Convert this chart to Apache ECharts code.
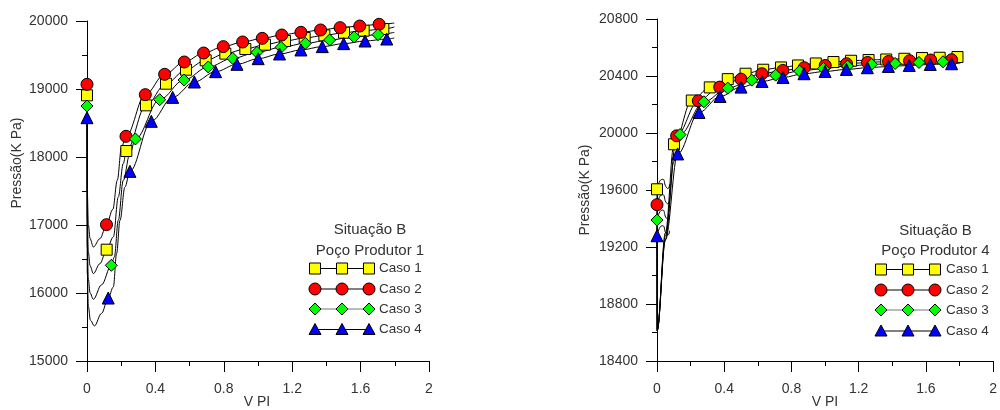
<!DOCTYPE html>
<html>
<head>
<meta charset="utf-8">
<script src="https://cdn.jsdelivr.net/npm/echarts@6/dist/echarts.min.js"></script>
<style>html,body{margin:0;padding:0;background:#fff}#c{width:1000px;height:410px}</style>
</head>
<body>
<div id="c"></div>
<script>
// ---------- DATA ----------
const caseNames = ['Caso 1', 'Caso 2', 'Caso 3', 'Caso 4'];
const xTickLabels = ['0', '0.4', '0.8', '1.2', '1.6', '2'];
const yTicksP1 = [15000, 16000, 17000, 18000, 19000, 20000];
const yTicksP4 = [18400, 18800, 19200, 19600, 20000, 20400, 20800];

// Poço Produtor 1 – marker points
const p1Caso1 = [[0,18907],[0.115,16637],[0.230,18088],[0.345,18760],[0.462,19078],[0.579,19284],[0.694,19422],[0.809,19520],[0.926,19588],[1.041,19652],[1.158,19706],[1.273,19750],[1.388,19789],[1.503,19828],[1.618,19858],[1.733,19882]];
const p1Caso2 = [[0,19069],[0.114,17005],[0.228,18304],[0.341,18917],[0.454,19216],[0.569,19397],[0.682,19529],[0.797,19623],[0.910,19691],[1.025,19745],[1.139,19794],[1.251,19833],[1.366,19868],[1.480,19902],[1.595,19926],[1.708,19951]];
const p1Caso3 = [[0,18750],[0.142,16407],[0.283,18265],[0.425,18843],[0.567,19132],[0.709,19324],[0.852,19451],[0.994,19539],[1.135,19613],[1.277,19672],[1.419,19721],[1.562,19765],[1.702,19799]];
const p1Caso4 = [[0,18578],[0.124,15926],[0.251,17789],[0.376,18525],[0.501,18877],[0.628,19103],[0.752,19255],[0.877,19363],[1.001,19446],[1.126,19515],[1.251,19574],[1.376,19623],[1.501,19667],[1.626,19706],[1.753,19735]];
// Poço Produtor 1 – extra curve points read between markers
const p1Caso1Curve = [[0.0015,17100],[0.008,16600],[0.018,16400],[0.037,16285],[0.075,16430],[0.154,16824],[0.183,17412],[0.212,17903],[1.797,19912]];
const p1Caso2Curve = [[0.0015,17500],[0.008,17000],[0.018,16800],[0.037,16676],[0.076,16800],[0.151,17230],[0.177,17657],[0.202,18147],[1.797,19970]];
const p1Caso3Curve = [[0.0015,16700],[0.008,16200],[0.018,16000],[0.037,15907],[0.085,16120],[0.160,16530],[0.183,17069],[0.212,17657],[0.251,18050],[1.797,19833]];
const p1Caso4Curve = [[0.0015,16300],[0.008,15800],[0.020,15600],[0.043,15515],[0.085,15700],[0.154,16088],[0.173,16579],[0.193,17069],[0.222,17559],[1.797,19750]];

// Poço Produtor 4 – marker points
const p4Caso1 = [[0,19605],[0.101,19921],[0.207,20228],[0.314,20320],[0.421,20378],[0.527,20416],[0.632,20444],[0.738,20460],[0.839,20474],[0.945,20488],[1.050,20498],[1.155,20507],[1.259,20512],[1.364,20516],[1.472,20521],[1.577,20526],[1.682,20528],[1.788,20533]];
const p4Caso2 = [[0,19497],[0.117,19980],[0.246,20226],[0.373,20322],[0.500,20378],[0.624,20416],[0.749,20439],[0.876,20458],[1.001,20474],[1.128,20486],[1.253,20495],[1.378,20502],[1.503,20507],[1.628,20512],[1.753,20514]];
const p4Caso3 = [[0,19389],[0.137,19989],[0.279,20219],[0.421,20315],[0.564,20371],[0.706,20406],[0.849,20434],[0.991,20453],[1.134,20470],[1.276,20481],[1.417,20488],[1.559,20495],[1.702,20500]];
const p4Caso4 = [[0,19279],[0.123,19853],[0.250,20144],[0.375,20256],[0.500,20322],[0.625,20362],[0.750,20390],[0.875,20416],[1.000,20432],[1.127,20446],[1.252,20458],[1.377,20467],[1.501,20474],[1.626,20481],[1.753,20486]];
// Poço Produtor 4 – extra curve points
const p4Caso1Curve = [[0.001,18615],[0.050,19300],[1.805,20538]];
const p4Caso2Curve = [[0.001,18615],[0.050,19280],[1.805,20519]];
const p4Caso3Curve = [[0.001,18615],[0.050,19250],[0.100,19800],[1.805,20505]];
const p4Caso4Curve = [[0.001,18615],[0.050,19250],[1.805,20491]];
// Poço Produtor 4 – small wiggles next to the first markers
const p4Caso1Wiggle = [[0,19605],[0.018,19665],[0.035,19675],[0.052,19625],[0.066,19610],[0.075,19640]];
const p4Caso2Wiggle = [[0,19497],[0.018,19557],[0.035,19567],[0.052,19517],[0.066,19502],[0.075,19532]];
const p4Caso3Wiggle = [[0,19389],[0.018,19449],[0.035,19459],[0.052,19409],[0.066,19394],[0.075,19424]];
const p4Caso4Wiggle = [[0,19279],[0.018,19339],[0.035,19349],[0.052,19299],[0.066,19284],[0.075,19314]];

// ---------- STYLE ----------
const FONT = "'Liberation Sans', Arial, sans-serif";
const TXT = '#333';
const caseStyles = [
  {symbol: 'rect', size: 11, color: '#ffff00', legendLine: '#000'},
  {symbol: 'circle', size: 12, color: '#ff0000', legendLine: '#000'},
  {symbol: 'diamond', size: 12, color: '#00ff00', legendLine: '#777'},
  {symbol: 'triangle', size: 12, color: '#0000ff', legendLine: '#000'}
];

function mergeCurve(markers, extra) {
  return markers.concat(extra).sort((a, b) => a[0] - b[0]);
}

function axes(gi, yMin, yMax, yInt) {
  const common = {
    gridIndex: gi, type: 'value',
    axisLine: {show: true, onZero: false, lineStyle: {color: '#000', width: 1}},
    axisTick: {show: true, length: 11, lineStyle: {color: '#000'}},
    minorTick: {show: true, splitNumber: 2, length: 5, lineStyle: {color: '#000'}},
    splitLine: {show: false}, minorSplitLine: {show: false}
  };
  const x = Object.assign({}, common, {
    min: 0, max: 2, interval: 0.4,
    axisLabel: {color: TXT, fontSize: 14, fontFamily: FONT, margin: 21,
      formatter: v => xTickLabels[Math.round(v / 0.4)]}
  });
  const y = Object.assign({}, common, {
    min: yMin, max: yMax, interval: yInt,
    axisLabel: {color: TXT, fontSize: 14, fontFamily: FONT, margin: 19, formatter: v => String(v)}
  });
  return {x, y};
}

const a0 = axes(0, yTicksP1[0], yTicksP1[yTicksP1.length - 1], 1000);
const a1 = axes(1, yTicksP4[0], yTicksP4[yTicksP4.length - 1], 400);

const series = [];
function addCase(idx, axis, markers, extra, wiggle) {
  const st = caseStyles[idx];
  series.push({
    type: 'line', xAxisIndex: axis, yAxisIndex: axis, data: mergeCurve(markers, extra),
    symbol: 'none', smooth: 0.35, smoothMonotone: 'x', silent: true, z: 2,
    lineStyle: {color: '#000', width: 1}
  });
  if (wiggle) {
    series.push({
      type: 'line', xAxisIndex: axis, yAxisIndex: axis, data: wiggle,
      symbol: 'none', smooth: 0.5, silent: true, z: 2,
      lineStyle: {color: '#000', width: 1}
    });
  }
  series.push({
    type: 'scatter', name: caseNames[idx], xAxisIndex: axis, yAxisIndex: axis, data: markers,
    symbol: st.symbol, symbolSize: st.size, z: 3, silent: true,
    itemStyle: {color: st.color, borderColor: '#000', borderWidth: 1, opacity: 1}
  });
}
addCase(0, 0, p1Caso1, p1Caso1Curve);
addCase(1, 0, p1Caso2, p1Caso2Curve);
addCase(2, 0, p1Caso3, p1Caso3Curve);
addCase(3, 0, p1Caso4, p1Caso4Curve);
addCase(0, 1, p4Caso1, p4Caso1Curve, p4Caso1Wiggle);
addCase(1, 1, p4Caso2, p4Caso2Curve, p4Caso2Wiggle);
addCase(2, 1, p4Caso3, p4Caso3Curve, p4Caso3Wiggle);
addCase(3, 1, p4Caso4, p4Caso4Curve, p4Caso4Wiggle);

// ---------- LEGEND + AXIS TITLES (graphic) ----------
function symbolShape(kind, cx, cy, color) {
  const s = {fill: color, stroke: '#000', lineWidth: 1};
  if (kind === 'rect') return {type: 'rect', shape: {x: cx - 5.5, y: cy - 5.5, width: 11, height: 11}, style: s};
  if (kind === 'circle') return {type: 'circle', shape: {cx: cx, cy: cy, r: 6}, style: s};
  if (kind === 'diamond') return {type: 'polygon', shape: {points: [[cx, cy - 6], [cx + 6, cy], [cx, cy + 6], [cx - 6, cy]]}, style: s};
  return {type: 'polygon', shape: {points: [[cx, cy - 6], [cx + 6, cy + 5], [cx - 6, cy + 5]]}, style: s};
}
function txt(text, x, y, size, align, rot) {
  return {type: 'text', x: x, y: y, rotation: rot || 0,
    style: {text: text, fill: TXT, font: size + 'px ' + FONT, textAlign: align, textVerticalAlign: 'middle'}};
}
function legend(title1, title2, cx, t1y, t2y, rowsY, symX, textX) {
  const els = [txt(title1, cx, t1y, 15, 'center'), txt(title2, cx, t2y, 15, 'center')];
  rowsY.forEach((ry, i) => {
    const st = caseStyles[i];
    els.push({type: 'line', shape: {x1: symX[0], y1: ry, x2: symX[2], y2: ry}, style: {stroke: st.legendLine, lineWidth: 1}});
    symX.forEach(sx => els.push(symbolShape(st.symbol, sx, ry, st.color)));
    els.push(txt(caseNames[i], textX, ry, 13.5, 'left'));
  });
  return els;
}
const graphics = []
  .concat(legend('Situação B', 'Poço Produtor 1', 370, 230, 250.5, [268.5, 289, 309, 329.5], [315, 342, 369], 379))
  .concat(legend('Situação B', 'Poço Produtor 4', 935.5, 231, 251, [269.5, 290, 310, 331], [881, 908, 935], 946))
  .concat([
    txt('Pressão(K Pa)', 17, 163, 14, 'center', Math.PI / 2),
    txt('Pressão(K Pa)', 585, 190, 14, 'center', Math.PI / 2),
    txt('V PI', 257, 402, 14, 'center'),
    txt('V PI', 825, 402, 14, 'center')
  ]);

const chart = echarts.init(document.getElementById('c'), null, {renderer: 'canvas'});
chart.setOption({
  animation: false,
  backgroundColor: '#fff',
  grid: [
    {left: 87, top: 21, width: 342, height: 340},
    {left: 657, top: 19, width: 341, height: 342}
  ],
  xAxis: [a0.x, a1.x],
  yAxis: [a0.y, a1.y],
  series: series,
  graphic: graphics
});
</script>
</body>
</html>
